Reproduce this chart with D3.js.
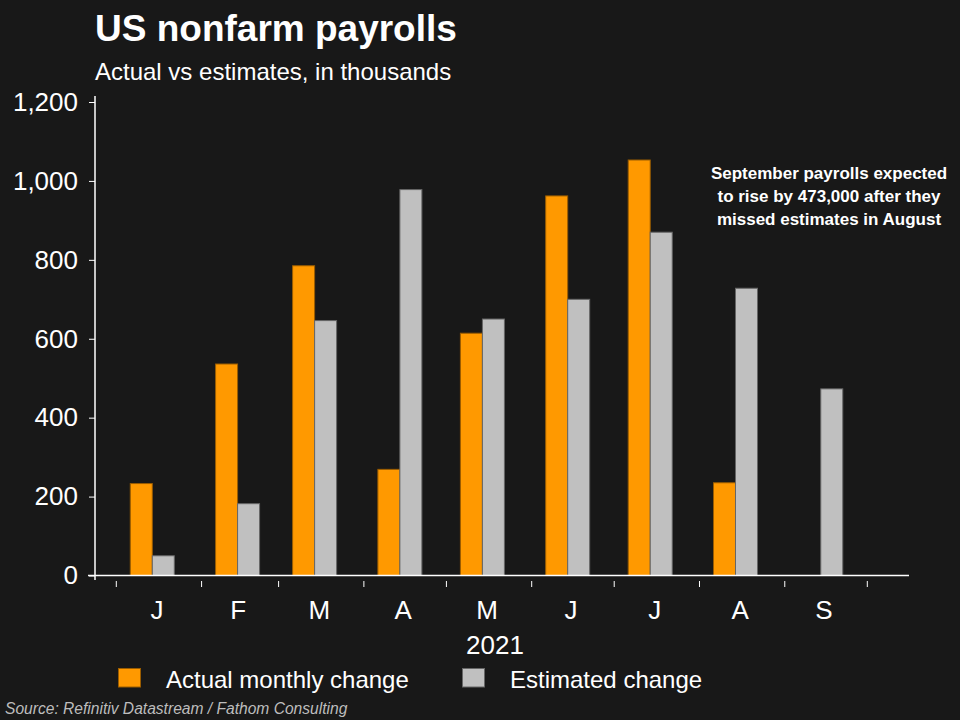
<!DOCTYPE html>
<html>
<head>
<meta charset="utf-8">
<script src="https://cdn.jsdelivr.net/npm/d3@7"></script>
<style>
  html, body { margin: 0; padding: 0; background: #181818; }
  svg { display: block; font-family: "Liberation Sans", Arial, sans-serif; }
</style>
</head>
<body>
<svg id="chart" width="960" height="720"></svg>
<script>
const categories = ["2021-01", "2021-02", "2021-03", "2021-04", "2021-05", "2021-06", "2021-07", "2021-08", "2021-09"];
const tickLabels = ["J", "F", "M", "A", "M", "J", "J", "A", "S"];
const actual = [233, 536, 785, 269, 614, 962, 1053, 235, null];
const estimated = [50, 182, 646, 978, 650, 700, 870, 728, 473];
const yTicks = [0, 200, 400, 600, 800, 1000, 1200];
const seriesNames = ["Actual monthly change", "Estimated change"];
const yearLabel = "2021";

const svg = d3.select("#chart");
const W = 960, H = 720;
svg.append("rect").attr("width", W).attr("height", H).attr("fill", "#181818");

const parseMonth = d3.timeParse("%Y-%m");
const months = categories.map(parseMonth);
const endMonth = d3.timeMonth.offset(months[months.length - 1], 1);
const x = d3.scaleTime().domain([months[0], endMonth]).range([116.3, 867.3]);
const xs = d3.scaleBand().domain(["actual", "estimated"]).range([-22, 22]).paddingInner(0).paddingOuter(0);
const barOffset = 36;
const y = d3.scaleLinear().domain([0, 1200]).range([575.5, 102]);

// Title
svg.append("text").attr("x", 95).attr("y", 41).attr("fill", "#fff")
  .attr("font-size", 37).attr("font-weight", "bold").text("US nonfarm payrolls");
svg.append("text").attr("x", 95).attr("y", 80).attr("fill", "#fff")
  .attr("font-size", 24).text("Actual vs estimates, in thousands");

// Bars
const rows = categories.map((c, i) => ({ date: months[i], actual: actual[i], estimated: estimated[i] }));
const g = svg.append("g");
rows.forEach(r => {
  const cx = x(r.date) + barOffset;
  if (r.actual != null) {
    g.append("rect")
      .attr("x", cx + xs("actual"))
      .attr("y", y(r.actual))
      .attr("width", xs.bandwidth())
      .attr("height", y(0) - y(r.actual))
      .attr("fill", "#ff9900").attr("stroke", "#9a5c00").attr("stroke-width", 1);
  }
  if (r.estimated != null) {
    g.append("rect")
      .attr("x", cx + xs("estimated"))
      .attr("y", y(r.estimated))
      .attr("width", xs.bandwidth())
      .attr("height", y(0) - y(r.estimated))
      .attr("fill", "#c0c0c0").attr("stroke", "#666").attr("stroke-width", 1);
  }
});

// Y axis
const yAxis = d3.axisLeft(y).tickValues(yTicks).tickSize(6).tickSizeOuter(0).tickPadding(11)
  .tickFormat(d3.format(","));
const ya = svg.append("g").attr("transform", "translate(95,0)").call(yAxis);
ya.select(".domain").remove();
ya.selectAll(".tick line").attr("stroke", "#fff");
ya.selectAll(".tick text").attr("fill", "#fff").attr("font-size", 26)
  .attr("font-family", "\"Liberation Sans\", Arial, sans-serif");
svg.append("line").attr("x1", 95).attr("x2", 95).attr("y1", 96).attr("y2", 580)
  .attr("stroke", "#fff").attr("stroke-width", 1.5);

// X axis
svg.append("line").attr("x1", 88).attr("x2", 909).attr("y1", y(0)).attr("y2", y(0))
  .attr("stroke", "#fff").attr("stroke-width", 1.5);
const bounds = months.concat([endMonth]);
svg.append("g").selectAll("line").data(bounds).join("line")
  .attr("x1", d => x(d)).attr("x2", d => x(d)).attr("y1", 581).attr("y2", 587)
  .attr("stroke", "#fff").attr("stroke-width", 1);
svg.append("g").selectAll("text").data(months).join("text")
  .attr("x", d => (x(d) + x(d3.timeMonth.offset(d, 1))) / 2 - 2)
  .attr("y", 619).attr("text-anchor", "middle").attr("fill", "#fff").attr("font-size", 26)
  .text((d, i) => tickLabels[i]);
svg.append("text").attr("x", 495).attr("y", 654).attr("text-anchor", "middle")
  .attr("fill", "#fff").attr("font-size", 26).text(yearLabel);

// Annotation
const note = ["September payrolls expected", "to rise by 473,000 after they", "missed estimates in August"];
svg.append("g").selectAll("text").data(note).join("text")
  .attr("x", 829).attr("y", (d, i) => 179 + i * 23).attr("text-anchor", "middle")
  .attr("fill", "#fff").attr("font-size", 17).attr("font-weight", "bold").text(d => d);

// Legend
const legendColors = [["#ff9900", "#9a5c00"], ["#c0c0c0", "#666"]];
const legendX = [118.5, 462.5];
const legendTextX = [166, 510];
seriesNames.forEach((s, i) => {
  svg.append("rect").attr("x", legendX[i]).attr("y", 668.5).attr("width", 22).attr("height", 18.5)
    .attr("fill", legendColors[i][0]).attr("stroke", legendColors[i][1]).attr("stroke-width", 1);
  svg.append("text").attr("x", legendTextX[i]).attr("y", 688).attr("fill", "#fff")
    .attr("font-size", 24).text(s);
});

// Source
svg.append("text").attr("x", 5).attr("y", 714).attr("fill", "#bdbdbd")
  .attr("font-size", 15.6).attr("font-style", "italic")
  .text("Source: Refinitiv Datastream / Fathom Consulting");
</script>
</body>
</html>
